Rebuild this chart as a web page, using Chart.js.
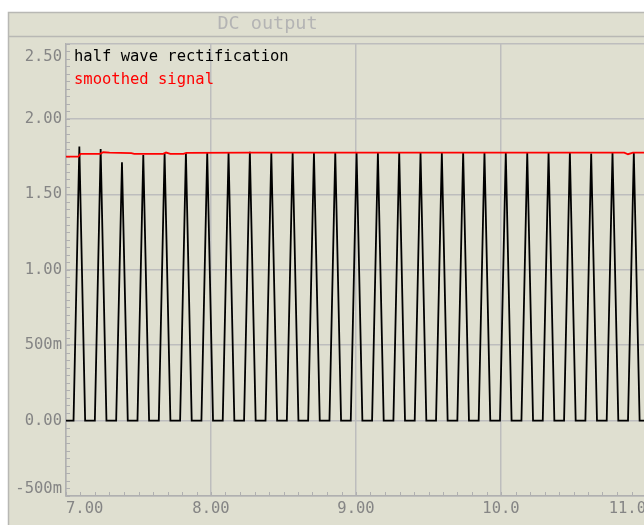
<!DOCTYPE html>
<html>
<head>
<meta charset="utf-8">
<title>DC output</title>
<script src="https://cdn.jsdelivr.net/npm/chart.js@4"></script>
<style>
    html, body { margin: 0; padding: 0; overflow: hidden; background: #fff; }
    #wrap { position: relative; width: 700px; height: 525px; }
</style>
</head>
<body>
<div id="wrap"><canvas id="chart"></canvas></div>
<script>
const TITLE = "DC output";

// time axis
const xTickValues = [7, 8, 9, 10, 11];
const xTickLabels = ["7.00", "8.00", "9.00", "10.0", "11.0"];

// voltage axis
const yTickValues = [-0.5, 0, 0.5, 1, 1.5, 2, 2.5];
const yTickLabels = ["-500m", "0.00", "500m", "1.00", "1.50", "2.00", "2.50"];

// half wave rectification (vertices of the simulated trace)
const halfWaveTimes = [
    7.000,
    7.052, 7.092, 7.132,
    7.199, 7.239, 7.279,
    7.346, 7.386, 7.426,
    7.493, 7.533, 7.573,
    7.640, 7.680, 7.720,
    7.787, 7.827, 7.867,
    7.934, 7.974, 8.014,
    8.081, 8.121, 8.161,
    8.228, 8.268, 8.308,
    8.376, 8.416, 8.456,
    8.523, 8.563, 8.603,
    8.670, 8.710, 8.750,
    8.817, 8.857, 8.897,
    8.964, 9.004, 9.044,
    9.111, 9.151, 9.191,
    9.258, 9.298, 9.338,
    9.405, 9.445, 9.485,
    9.552, 9.592, 9.632,
    9.699, 9.739, 9.779,
    9.846, 9.886, 9.926,
    9.993, 10.033, 10.073,
    10.141, 10.181, 10.221,
    10.288, 10.328, 10.368,
    10.435, 10.475, 10.515,
    10.582, 10.622, 10.662,
    10.729, 10.769, 10.809,
    10.876, 10.916, 10.956,
    11.000,
];
const halfWaveVolts = [
    0,
    0, 1.817, 0,
    0, 1.800, 0,
    0, 1.713, 0,
    0, 1.760, 0,
    0, 1.773, 0,
    0, 1.774, 0,
    0, 1.775, 0,
    0, 1.778, 0,
    0, 1.782, 0,
    0, 1.776, 0,
    0, 1.777, 0,
    0, 1.776, 0,
    0, 1.778, 0,
    0, 1.777, 0,
    0, 1.776, 0,
    0, 1.778, 0,
    0, 1.777, 0,
    0, 1.776, 0,
    0, 1.777, 0,
    0, 1.778, 0,
    0, 1.777, 0,
    0, 1.776, 0,
    0, 1.777, 0,
    0, 1.778, 0,
    0, 1.770, 0,
    0, 1.777, 0,
    0, 1.776, 0,
    0,
];

// smoothed signal
const smoothTimes = [7.000, 7.085, 7.100, 7.235, 7.257, 7.300, 7.450, 7.470, 7.670, 7.690,
    7.720, 7.810, 7.830, 8.270, 8.420, 9.000, 9.300, 10.000, 10.500, 10.850, 10.876, 10.910, 11.000];
const smoothVolts = [1.750, 1.750, 1.768, 1.768, 1.779, 1.776, 1.773, 1.768, 1.768, 1.777,
    1.768, 1.768, 1.775, 1.776, 1.776, 1.777, 1.776, 1.777, 1.777, 1.777, 1.766, 1.777, 1.777];

const MONO = '"DejaVu Sans Mono", monospace';
const PANEL_BG = "#dfdfd0";
const FRAME_COLOR = "#b8b8b4";
const GRID_COLOR = "#bdbdbd";
const AXIS_COLOR = "#b0b0b0";
const LABEL_COLOR = "#858585";
const TITLE_COLOR = "#b4b4b4";

function toPoints(xs, ys) {
    return xs.map((x, i) => ({ x, y: ys[i] }));
}

// beige panel, frame, title bar
const panelFrame = {
    id: "panelFrame",
    beforeDraw(chart) {
        const { ctx, width, height } = chart;
        ctx.save();
        ctx.fillStyle = "#fff";
        ctx.fillRect(0, 0, width, height);
        ctx.fillStyle = PANEL_BG;
        ctx.fillRect(8, 12, width - 8, height - 12);
        ctx.strokeStyle = FRAME_COLOR;
        ctx.lineWidth = 1.5;
        ctx.beginPath();
        ctx.moveTo(8.5, height);
        ctx.lineTo(8.5, 12.5);
        ctx.lineTo(width, 12.5);
        ctx.moveTo(8.5, 36.5);
        ctx.lineTo(width, 36.5);
        ctx.stroke();
        ctx.fillStyle = TITLE_COLOR;
        ctx.font = `18.5px ${MONO}`;
        ctx.textAlign = "center";
        ctx.textBaseline = "middle";
        ctx.fillText(TITLE, 267.5, 24.5);
        ctx.restore();
    },
};

// small inward ticks along both axes
const minorTicks = {
    id: "minorTicks",
    beforeDatasetsDraw(chart) {
        const { ctx, chartArea, scales } = chart;
        ctx.save();
        ctx.strokeStyle = AXIS_COLOR;
        ctx.lineWidth = 1;
        ctx.beginPath();
        for (let i = 0; i <= 40; i++) {
            const px = Math.round(scales.x.getPixelForValue(7 + i * 0.1)) + 0.5;
            ctx.moveTo(px, chartArea.bottom);
            ctx.lineTo(px, chartArea.bottom - 4);
        }
        for (let i = 0; i <= 60; i++) {
            const py = Math.round(scales.y.getPixelForValue(-0.5 + i * 0.05)) + 0.5;
            ctx.moveTo(chartArea.left, py);
            ctx.lineTo(chartArea.left + 4, py);
        }
        ctx.stroke();
        ctx.restore();
    },
};

// trace names written in the top-left of the plot, in trace colour
const traceNames = {
    id: "traceNames",
    afterDatasetsDraw(chart) {
        const { ctx, chartArea } = chart;
        ctx.save();
        ctx.font = `15.5px ${MONO}`;
        ctx.textAlign = "left";
        ctx.textBaseline = "middle";
        chart.data.datasets.forEach((ds, i) => {
            ctx.fillStyle = ds.borderColor;
            ctx.fillText(ds.label, chartArea.left + 8, chartArea.top + 13.5 + i * 23);
        });
        ctx.restore();
    },
};

const last = yTickValues.length - 1;

new Chart(document.getElementById("chart"), {
    type: "line",
    data: {
        datasets: [
            {
                label: "half wave rectification",
                data: toPoints(halfWaveTimes, halfWaveVolts),
                borderColor: "#000000",
                borderWidth: 1.8,
                pointRadius: 0,
                tension: 0,
                order: 1,
            },
            {
                label: "smoothed signal",
                data: toPoints(smoothTimes, smoothVolts),
                borderColor: "#ff0000",
                borderWidth: 1.8,
                pointRadius: 0,
                tension: 0,
                order: 0,
            },
        ],
    },
    options: {
        responsive: true,
        maintainAspectRatio: false,
        animation: false,
        events: [],
        layout: { padding: { top: 43.5, right: 54, bottom: 0, left: 0 } },
        plugins: {
            legend: { display: false },
            tooltip: { enabled: false },
            title: { display: false },
        },
        scales: {
            x: {
                type: "linear",
                min: 7,
                max: 11,
                afterBuildTicks: (s) => { s.ticks = xTickValues.map((v) => ({ value: v })); },
                afterFit: (s) => { s.height = 29; },
                ticks: {
                    align: "inner",
                    padding: 4,
                    maxRotation: 0,
                    autoSkip: false,
                    color: LABEL_COLOR,
                    font: { family: MONO, size: 15.5 },
                    callback: (v, i) => xTickLabels[i],
                },
                grid: { color: GRID_COLOR, lineWidth: 1.5, drawTicks: false },
                border: { color: AXIS_COLOR, width: 1.5 },
            },
            y: {
                type: "linear",
                min: -0.5,
                max: 2.5,
                afterBuildTicks: (s) => { s.ticks = yTickValues.map((v) => ({ value: v })); },
                afterFit: (s) => { s.width = 66; },
                ticks: {
                    padding: 4,
                    autoSkip: false,
                    color: LABEL_COLOR,
                    font: (c) => ({
                        family: MONO,
                        size: 15.5,
                        lineHeight: c.index === 0 ? "15px" : c.index === last ? "27px" : 1.2,
                    }),
                    callback: (v, i) => {
                        if (i === 0) return [yTickLabels[i], ""];
                        if (i === last) return ["", yTickLabels[i]];
                        return yTickLabels[i];
                    },
                },
                grid: { color: GRID_COLOR, lineWidth: 1.5, drawTicks: false },
                border: { color: AXIS_COLOR, width: 1.5 },
            },
        },
    },
    plugins: [panelFrame, minorTicks, traceNames],
});
</script>
</body>
</html>
